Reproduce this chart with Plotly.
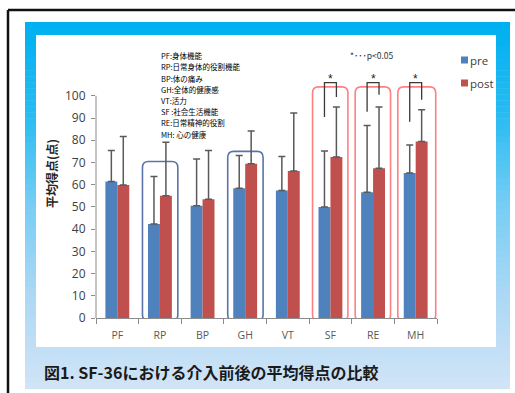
import plotly.graph_objects as go

# ---------------- data ----------------
categories = ["PF", "RP", "BP", "GH", "VT", "SF", "RE", "MH"]
pre_mean = [61.4, 42.3, 50.5, 58.4, 57.4, 49.9, 56.6, 65.2]
post_mean = [59.9, 55.0, 53.4, 69.4, 66.2, 72.4, 67.4, 79.4]
pre_err_top = [75.4, 63.7, 71.6, 73.1, 72.7, 75.2, 86.6, 77.9]
post_err_top = [81.7, 79.1, 75.4, 84.2, 92.3, 95.0, 95.0, 93.7]
pre_err = [round(t - m, 1) for t, m in zip(pre_err_top, pre_mean)]
post_err = [round(t - m, 1) for t, m in zip(post_err_top, post_mean)]

series_names = ["pre", "post"]
y_ticks = [0, 10, 20, 30, 40, 50, 60, 70, 80, 90, 100]

abbrev_lines = [
    "PF:身体機能",
    "RP:日常身体的役割機能",
    "BP:体の痛み",
    "GH:全体的健康感",
    "VT:活力",
    "SF :社会生活機能",
    "RE:日常精神的役割",
    "MH: 心の健康",
]

blue_boxes = {"RP": 70.4, "GH": 75.0}          # category -> box top
red_boxes = {"SF": 104.0, "RE": 104.0, "MH": 104.0}
sig_brackets = {"SF": (90.5, 99.5), "RE": (92.8, 100.5), "MH": (88.3, 98.2)}
bracket_top = 105.9

# ---------------- geometry ----------------
W, H = 515, 393
L, R, T, B = 96, 78, 78, 75
YMAX = 108
plot_w = W - L - R
plot_h = H - T - B


def px(xp, yp):
    return (xp - L) / plot_w, (H - B - yp) / plot_h


BAR_BLUE = "#4f81bd"
BAR_RED = "#c0504d"
ERR = "#5a5a5a"
AXIS = "#8c8c8c"
JP = "Noto Sans CJK JP"
colors = [BAR_BLUE, BAR_RED]

fig = go.Figure()
for name, mean, err, col in zip(series_names, [pre_mean, post_mean], [pre_err, post_err], colors):
    fig.add_trace(go.Bar(
        x=categories, y=mean, name=name, marker=dict(color=col, line=dict(width=0)),
        error_y=dict(type="data", symmetric=False, array=err, arrayminus=[0] * len(err),
                     color=ERR, thickness=1.5, width=3.5),
        showlegend=False,
    ))

shapes = []
# outer frame (top + left)
x0, y0 = px(8, 10)
x1, _ = px(515, 10)
_, y1 = px(8, 393)
shapes.append(dict(type="line", xref="paper", yref="paper", x0=x0, x1=x1, y0=y0, y1=y0,
                   line=dict(color="#111111", width=2.5), layer="below"))
shapes.append(dict(type="line", xref="paper", yref="paper", x0=x0, x1=x0, y0=y0, y1=y1,
                   line=dict(color="#111111", width=2.5), layer="below"))

# blue gradient panel
stops = [(0.0, (0, 176, 240)), (0.25, (40, 188, 242)), (0.5, (120, 205, 244)),
         (0.75, (172, 216, 245)), (1.0, (208, 228, 246))]


def grad(t):
    for (ta, ca), (tb, cb) in zip(stops[:-1], stops[1:]):
        if ta <= t <= tb:
            f = (t - ta) / (tb - ta)
            return "rgb(%d,%d,%d)" % tuple(round(a + (b - a) * f) for a, b in zip(ca, cb))
    return "rgb(%d,%d,%d)" % stops[-1][1]


top_px, bot_px = 22, 389
n = 61
for i in range(n):
    ya = top_px + (bot_px - top_px) * i / n
    yb = top_px + (bot_px - top_px) * (i + 1) / n + 0.6
    ax0, ay0 = px(25, ya)
    ax1, ay1 = px(510, min(yb, bot_px))
    shapes.append(dict(type="rect", xref="paper", yref="paper", x0=ax0, x1=ax1, y0=ay1, y1=ay0,
                       fillcolor=grad(i / (n - 1)), line=dict(width=0), layer="below"))
# white chart area
wx0, wy0 = px(36, 35)
wx1, wy1 = px(496, 347)
shapes.append(dict(type="rect", xref="paper", yref="paper", x0=wx0, x1=wx1, y0=wy1, y1=wy0,
                   fillcolor="white", line=dict(width=0), layer="below"))

# y axis line from 0 to 100
shapes.append(dict(type="line", xref="paper", yref="y", x0=0, x1=0, y0=0, y1=100,
                   line=dict(color=AXIS, width=1)))


def rrect(xa, xb, ya, yb, rx=0.14, ry=2.8):
    return (f"M {xa+rx},{ya} L {xb-rx},{ya} Q {xb},{ya} {xb},{ya+ry} "
            f"L {xb},{yb-ry} Q {xb},{yb} {xb-rx},{yb} L {xa+rx},{yb} "
            f"Q {xa},{yb} {xa},{yb-ry} L {xa},{ya+ry} Q {xa},{ya} {xa+rx},{ya} Z")


for cat, top in blue_boxes.items():
    i = categories.index(cat)
    shapes.append(dict(type="path", xref="x", yref="y", path=rrect(i - 0.41, i + 0.42, -1.2, top),
                       line=dict(color="#5b73a9", width=1.6), layer="below"))
for cat, top in red_boxes.items():
    i = categories.index(cat)
    right = 0.47 if i == len(categories) - 1 else 0.41
    shapes.append(dict(type="path", xref="x", yref="y", path=rrect(i - 0.42, i + right, -1.2, top),
                       line=dict(color="#ff7f82", width=1.6), layer="below"))

# significance brackets
off = 0.14
for cat, (lb, rb) in sig_brackets.items():
    i = categories.index(cat)
    xl, xr = i - off, i + off
    shapes.append(dict(type="path", xref="x", yref="y",
                       path=f"M {xl},{lb} L {xl},{bracket_top} L {xr},{bracket_top} L {xr},{rb}",
                       line=dict(color="#3a3a3a", width=1.3)))

annotations = []
for cat in sig_brackets:
    i = categories.index(cat)
    annotations.append(dict(x=i, y=bracket_top, xref="x", yref="y", text="*", showarrow=False,
                            yanchor="bottom", yshift=-5,
                            font=dict(size=12, color="#222", family="Liberation Sans")))

# legend (drawn manually to match the small Excel-style keys)
for k, (name, col) in enumerate(zip(series_names, colors)):
    cyp = 60 + 23 * k
    sx0, sy0 = px(461, cyp - 3.5)
    sx1, sy1 = px(468, cyp + 3.5)
    shapes.append(dict(type="rect", xref="paper", yref="paper", x0=sx0, x1=sx1, y0=sy1, y1=sy0,
                       fillcolor=col, line=dict(width=0)))
    tx_, ty_ = px(468, cyp)
    annotations.append(dict(x=tx_, y=ty_, xref="paper", yref="paper", text=name, showarrow=False,
                            xanchor="left", yanchor="middle",
                            font=dict(size=11.5, color="#404040", family="Open Sans")))

# abbreviation list
for k, line in enumerate(abbrev_lines):
    ax_, ay_ = px(159, 55.7 + 11.2 * k)
    annotations.append(dict(x=ax_, y=ay_, xref="paper", yref="paper", text=line, showarrow=False,
                            xanchor="left", yanchor="middle",
                            font=dict(size=7.5, color="#000", family=JP)))
# p-value note
nx, ny = px(348, 55)
annotations.append(dict(x=nx, y=ny, xref="paper", yref="paper", text="*･･･p<0.05", showarrow=False,
                        xanchor="left", yanchor="middle", font=dict(size=8.5, color="#333", family=JP)))
# y title
tx, ty = px(51, 174)
annotations.append(dict(x=tx, y=ty, xref="paper", yref="paper", text="<b>平均得点(点)</b>", showarrow=False,
                        textangle=-90, xanchor="center", yanchor="middle",
                        font=dict(size=12, color="#262626", family=JP)))
# caption
cx, cy = px(42, 372)
annotations.append(dict(x=cx, y=cy, xref="paper", yref="paper",
                        text="<b>図1. SF-36における介入前後の平均得点の比較</b>", showarrow=False,
                        xanchor="left", yanchor="middle", font=dict(size=16, color="#1a1a1a", family=JP)))

fig.update_layout(
    width=W, height=H,
    margin=dict(l=L, r=R, t=T, b=B, pad=0),
    paper_bgcolor="white", plot_bgcolor="rgba(0,0,0,0)",
    barmode="group", bargap=0.44, bargroupgap=0,
    shapes=shapes, annotations=annotations,
    showlegend=False,
    xaxis=dict(type="category", range=[-0.5, 7.5], showline=True, linecolor=AXIS, linewidth=1,
               ticks="outside", tickson="boundaries", ticklen=5, tickcolor=AXIS,
               tickfont=dict(size=10.5, color="#595959", family="Open Sans"),
               ticklabelstandoff=7, showgrid=False, zeroline=False),
    yaxis=dict(range=[0, YMAX], tickvals=y_ticks, showline=False, ticks="outside", ticklen=4,
               tickcolor=AXIS, tickfont=dict(size=12, color="#404040", family="Open Sans"),
               showgrid=False, zeroline=False, ticklabelstandoff=3),
)

fig.write_html("out.html")
